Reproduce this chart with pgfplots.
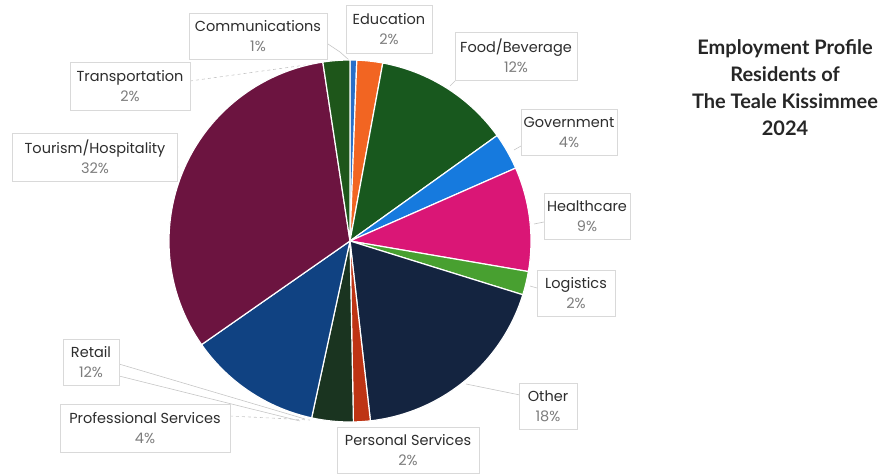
\documentclass[border=0pt]{standalone}
\usepackage{pgfplots}
\usepackage{pgfplotstable}
\usepackage{fontspec}
\setmainfont{Lato}
\newfontfamily\lblfont{Poppins}
\pgfplotsset{compat=1.18}

\definecolor{cComm}{RGB}{40,110,200}
\definecolor{cEdu}{RGB}{242,101,34}
\definecolor{cFood}{RGB}{24,88,30}
\definecolor{cGov}{RGB}{22,122,222}
\definecolor{cHealth}{RGB}{218,22,118}
\definecolor{cLog}{RGB}{72,160,48}
\definecolor{cOther}{RGB}{20,36,64}
\definecolor{cPers}{RGB}{190,52,20}
\definecolor{cProf}{RGB}{26,52,32}
\definecolor{cRetail}{RGB}{16,66,130}
\definecolor{cTour}{RGB}{108,20,64}
\definecolor{cTrans}{RGB}{30,86,26}
\definecolor{lblname}{RGB}{45,45,45}
\definecolor{lblpct}{RGB}{125,125,125}

% slice value (%), shown label, colour, label box centre/size in pixels from top-left
\pgfplotstableread[col sep=comma]{
name,value,pct,color,bx,by,bw,bh
Communications,0.6,1,cComm,258,36,138,46
Education,2.3,2,cEdu,389,29,86,48
Food/Beverage,12.2,12,cFood,516,56,122,48
Government,3.3,4,cGov,569,132,96,46
Healthcare,9.3,9,cHealth,587,216,86,46
Logistics,2.1,2,cLog,576,293,78,46
Other,18.4,18,cOther,548,406,58,46
Personal Services,1.5,2,cPers,408,450,142,46
Professional Services,3.7,4,cProf,145,428,170,48
Retail,11.9,12,cRetail,91,362,56,46
Tourism/Hospitality,32.3,32,cTour,95,157,165,48
Transportation,2.4,2,cTrans,130,86,120,48
}\pietable

\begin{document}
\begin{tikzpicture}
\begin{axis}[
    hide axis, scale only axis,
    width=887pt, height=473pt,
    xmin=0, xmax=887, ymin=0, ymax=473,
    y dir=reverse, clip=false,
]
\pgfplotsextra{
  \path (axis cs:0,0) rectangle (axis cs:887,473);
  % leader lines
  \begin{scope}[draw=gray!45, line width=0.6pt]
    \draw (axis cs:322,40) -- (axis cs:340,52) -- (axis cs:349,60);
    \draw[dashed] (axis cs:190,81) -- (axis cs:335,61);
    \draw (axis cs:458,78) -- (axis cs:450,86);
    \draw (axis cs:521,146) -- (axis cs:514,150);
    \draw (axis cs:544,222) -- (axis cs:534,224);
    \draw (axis cs:537,288) -- (axis cs:530,286);
    \draw (axis cs:520,395) -- (axis cs:466,384);
    \draw (axis cs:119,364) -- (axis cs:305,419);
    \draw (axis cs:119,376) -- (axis cs:300,421);
    \draw[dashed] (axis cs:230,416) -- (axis cs:310,420);
    \draw (axis cs:172,160) -- (axis cs:178,167) -- (axis cs:172,173);
  \end{scope}
  \pgfplotstablegetrowsof{\pietable}
  \pgfmathtruncatemacro\nrows{\pgfplotsretval-1}
  \xdef\cum{0}
  \foreach \i in {0,...,\nrows}{
    \pgfplotstablegetelem{\i}{value}\of\pietable \let\v\pgfplotsretval
    \pgfplotstablegetelem{\i}{color}\of\pietable \let\c\pgfplotsretval
    \pgfmathsetmacro\a{90-3.6*\cum}
    \pgfmathsetmacro\b{90-3.6*(\cum+\v)}
    \fill[\c, draw=white, line width=1.2pt]
      (axis cs:350,241) -- ++(\a:181pt) arc[start angle=\a, end angle=\b, radius=181pt] -- cycle;
    \pgfmathsetmacro\newcum{\cum+\v}
    \xdef\cum{\newcum}
  }
  \foreach \i in {0,...,\nrows}{
    \pgfplotstablegetelem{\i}{name}\of\pietable \let\n\pgfplotsretval
    \pgfplotstablegetelem{\i}{pct}\of\pietable \let\p\pgfplotsretval
    \pgfplotstablegetelem{\i}{bx}\of\pietable \let\bx\pgfplotsretval
    \pgfplotstablegetelem{\i}{by}\of\pietable \let\by\pgfplotsretval
    \pgfplotstablegetelem{\i}{bw}\of\pietable \let\bw\pgfplotsretval
    \pgfplotstablegetelem{\i}{bh}\of\pietable \let\bh\pgfplotsretval
    \node[draw=gray!30, fill=white, line width=0.6pt, align=center,
          minimum width=\bw pt, minimum height=\bh pt, inner sep=1pt,
          font=\lblfont\fontsize{14.5}{20}\selectfont]
      at (axis cs:\bx,\by) {\textcolor{lblname}{\n}\\\textcolor{lblpct}{\p\%}};
  }
  \node[align=center, font=\fontsize{20}{27}\selectfont\bfseries, text=black!85]
    at (axis cs:785,88) {Employment Profile\\Residents of\\The Teale Kissimmee\\2024};
}
\end{axis}
\end{tikzpicture}
\end{document}
